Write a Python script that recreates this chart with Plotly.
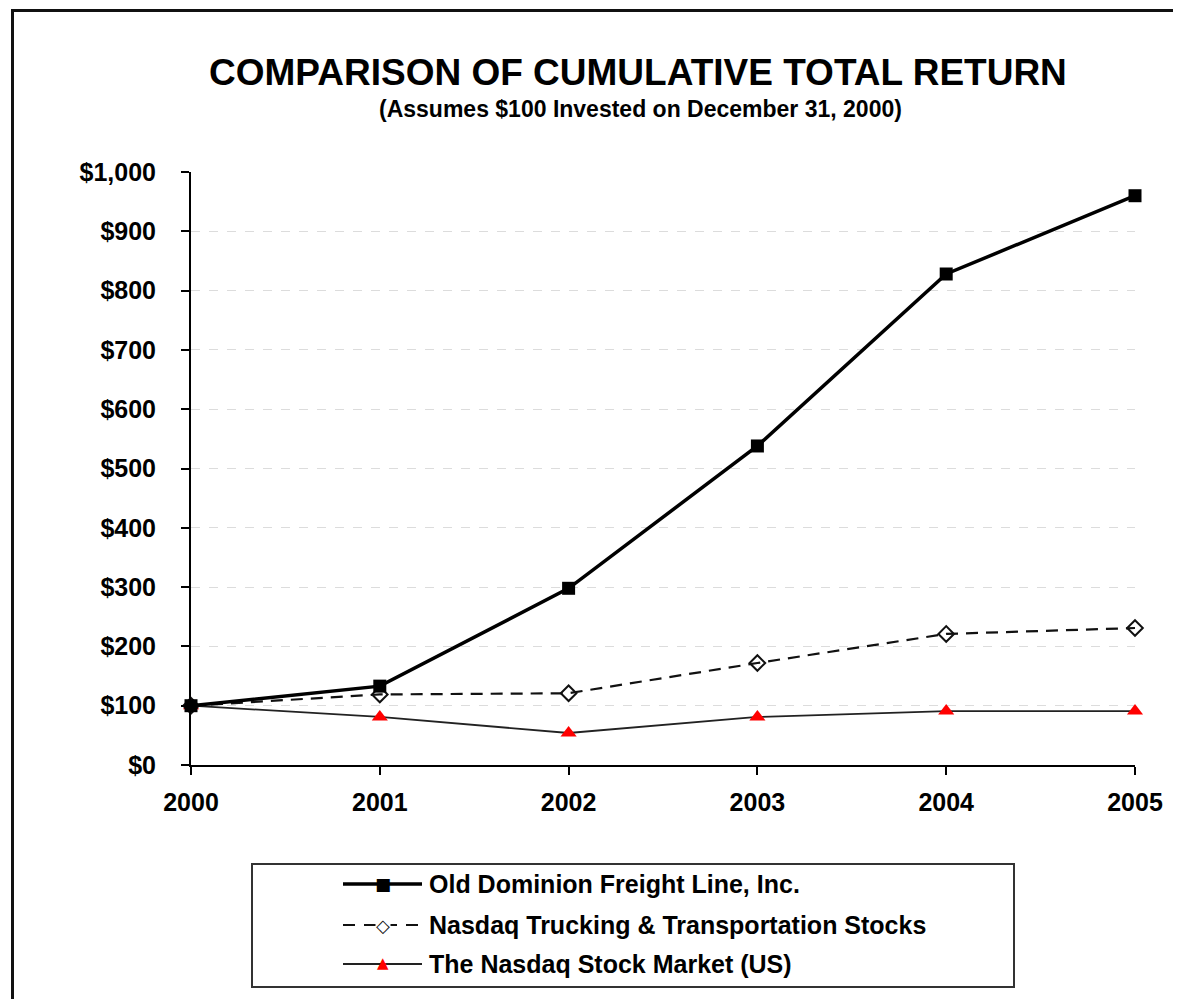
import plotly.graph_objects as go

years = [2000, 2001, 2002, 2003, 2004, 2005]
old_dominion = [100, 133, 298, 538, 828, 960]
nasdaq_trucking = [100, 119, 121, 172, 221, 231]
nasdaq_market = [100, 81, 54, 81, 91, 91]
series_names = ["Old Dominion Freight Line, Inc.",
                "Nasdaq Trucking & Transportation Stocks",
                "The Nasdaq Stock Market (US)"]
y_ticks = [0, 100, 200, 300, 400, 500, 600, 700, 800, 900, 1000]
y_tick_labels = ["$0", "$100", "$200", "$300", "$400", "$500", "$600", "$700", "$800", "$900", "$1,000"]

FONT = "Liberation Sans, Arial, sans-serif"
OFF = 8  # page body margin
W, H = 1181 - OFF, 999 - OFF
L, T = 191 - OFF, 172 - OFF
R = W - (1135 - OFF)
B = H - (765 - OFF)
pw, ph = W - L - R, H - T - B


def fx(p):
    return (p - OFF - L) / pw


def fy(p):
    return (H - B - (p - OFF)) / ph


fig = go.Figure()
fig.add_trace(go.Scatter(x=years, y=nasdaq_market, mode="lines+markers", name=series_names[2],
                         line=dict(color="#222", width=1.8),
                         marker=dict(symbol="triangle-up", size=14, color="#ff0000"),
                         cliponaxis=False, showlegend=False))
fig.add_trace(go.Scatter(x=years, y=nasdaq_trucking, mode="lines+markers", name=series_names[1],
                         line=dict(color="#111", width=2.2, dash="12px,8px"),
                         marker=dict(symbol="diamond-open", size=12, color="#111", line=dict(width=2)),
                         cliponaxis=False, showlegend=False))
fig.add_trace(go.Scatter(x=years, y=old_dominion, mode="lines+markers", name=series_names[0],
                         line=dict(color="#000", width=3.5),
                         marker=dict(symbol="square", size=13, color="#000"),
                         cliponaxis=False, showlegend=False))

shapes = []
# outer frame (extends past right/bottom edges)
shapes.append(dict(type="rect", xref="paper", yref="paper",
                   x0=fx(12.5), x1=fx(1181 + 30), y0=fy(999 + 30), y1=fy(10.5),
                   line=dict(color="#111", width=3), layer="below"))
# legend box
shapes.append(dict(type="rect", xref="paper", yref="paper",
                   x0=fx(252), x1=fx(1014), y0=fy(987), y1=fy(864),
                   line=dict(color="#333", width=2)))
leg_rows = [884, 925, 964]
leg_styles = [dict(color="#000", width=3.5), dict(color="#111", width=2, dash="12px,9px"),
              dict(color="#222", width=1.8)]
for ry, st in zip(leg_rows, leg_styles):
    shapes.append(dict(type="line", xref="paper", yref="paper",
                       x0=fx(343), x1=fx(422), y0=fy(ry), y1=fy(ry), line=st))

annotations = [
    dict(text="<b>COMPARISON OF CUMULATIVE TOTAL RETURN</b>", xref="paper", yref="paper",
         x=fx(638), y=fy(72), showarrow=False, font=dict(family=FONT, size=37, color="#000"),
         xanchor="center", yanchor="middle"),
    dict(text="<b>(Assumes $100 Invested on December 31, 2000)</b>", xref="paper", yref="paper",
         x=fx(640), y=fy(109), showarrow=False, font=dict(family=FONT, size=23, color="#000"),
         xanchor="center", yanchor="middle"),
]
for ry, name in zip(leg_rows, series_names):
    annotations.append(dict(text="<b>" + name.replace("&", "&amp;") + "</b>", xref="paper", yref="paper",
                            x=fx(427), y=fy(ry), showarrow=False, xanchor="left", yanchor="middle",
                            font=dict(family=FONT, size=25, color="#000")))

# legend marker glyphs (square, open diamond, red triangle)
leg_glyphs = [("■", "#000", 17, 0, "rgba(0,0,0,0)"), ("◇", "#111", 18, 0, "white"),
              ("▲", "#ff0000", 15, -1, "rgba(0,0,0,0)")]
for ry, (g, c, s, dy, bg) in zip(leg_rows, leg_glyphs):
    annotations.append(dict(text=g, xref="paper", yref="paper", x=fx(383), y=fy(ry + dy),
                            showarrow=False, xanchor="center", yanchor="middle",
                            font=dict(family="DejaVu Sans", size=s, color=c),
                            bgcolor=bg, borderpad=0))

fig.update_layout(
    width=W, height=H,
    margin=dict(l=L, r=R, t=T, b=B),
    paper_bgcolor="white", plot_bgcolor="white",
    showlegend=False,
    shapes=shapes, annotations=annotations,
    xaxis=dict(range=[2000, 2005], tickvals=years, ticktext=["<b>%d</b>" % y for y in years],
               showgrid=False, showline=True, linecolor="#000", linewidth=2,
               ticks="outside", ticklen=8, tickwidth=2, tickcolor="#000", ticklabelstandoff=6,
               tickfont=dict(family=FONT, size=25, color="#000"), zeroline=False),
    yaxis=dict(range=[0, 1000], tickvals=y_ticks, ticktext=["<b>" + t + "</b>" for t in y_tick_labels],
               showgrid=True, gridcolor="#dcdcdc", griddash="dash", gridwidth=1,
               showline=True, linecolor="#000", linewidth=2,
               ticks="outside", ticklen=8, tickwidth=2, tickcolor="#000", ticklabelstandoff=20,
               tickfont=dict(family=FONT, size=25, color="#000"), zeroline=False),
)

fig.write_html("out.html")
